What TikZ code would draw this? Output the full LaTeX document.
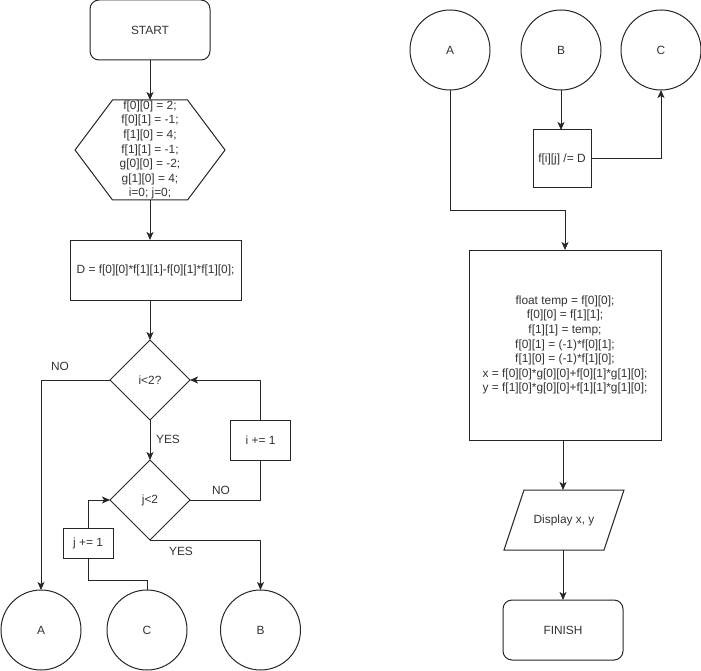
\documentclass[tikz,border=0pt]{standalone}
\usepackage{fontspec}
\setmainfont{Liberation Sans}
\usetikzlibrary{arrows.meta,shapes.geometric}

\tikzset{
  base/.style={draw=black!85, line width=1pt, inner sep=0pt, outer sep=0pt,
               text=black!80, font=\fontsize{11.9}{14.6}\selectfont},
  terminal/.style={base, rectangle, rounded corners=9pt},
  procbox/.style={base, rectangle},
  decision/.style={base, diamond, minimum width=80pt, minimum height=80pt, shape aspect=1},
  connector/.style={base, circle, minimum size=80pt},
  plain/.style={inner sep=0pt, outer sep=0pt, text=black!80, font=\fontsize{11.9}{14.6}\selectfont},
  link/.style={draw=black!85, line width=1pt},
  arr/.style={link, -{Stealth[length=8pt,width=7pt,inset=2pt]}}
}

\begin{document}
\begin{tikzpicture}[x=1pt,y=-1pt]
\useasboundingbox (0,0) rectangle (701,671);

% ---------- main routine (left column) ----------
\node[terminal, minimum width=120pt, minimum height=60pt] (start) at (150,30) {START};

\node[plain, minimum width=150pt, minimum height=100pt, align=center] (init) at (150,150)
  {f[0][0] = 2;\\ f[0][1] = -1;\\ f[1][0] = 4;\\ f[1][1] = -1;\\ g[0][0] = -2;\\ g[1][0] = 4;\\ i=0; j=0;};
\draw[link] (init.west) -- ([xshift=37.5pt]init.north west) -- ([xshift=-37.5pt]init.north east)
  -- (init.east) -- ([xshift=-37.5pt]init.south east) -- ([xshift=37.5pt]init.south west) -- cycle;

\node[procbox, minimum width=171pt, minimum height=60pt] (det) at (155.5,270)
  {D = f[0][0]*f[1][1]-f[0][1]*f[1][0];};

\node[decision] (di) at (150,380) {i<2?};
\node[decision] (dj) at (150,500) {j<2};

\node[procbox, minimum width=60pt, minimum height=40pt] (inci) at (260.5,440) {i += 1};
\node[procbox, minimum width=50pt, minimum height=30pt] (incj) at (88,543) {j += 1};

\node[connector] (cA) at (41,630) {A};
\node[connector] (cC) at (147,630) {C};
\node[connector] (cB) at (260.5,630) {B};

\coordinate (jc) at (88,580);

\draw[arr] (start.south) -- (init.north);
\draw[arr] (init.south) -- (init.south |- det.north);
\draw[arr] (di.north |- det.south) -- (di.north);
\draw[arr] (di.west) -| (cA.north);
\draw[arr] (di.south) -- (dj.north);
\draw[link] (dj.east) -| (inci.south);
\draw[arr] (inci.north) |- (di.east);
\draw[arr] (dj.south) -| (cB.north);
\draw[link] (cC.north) |- (jc) -- (incj.south);
\draw[arr] (incj.north) |- (dj.west);

\node[plain] (lno1) at (60,366) {NO};
\node[plain] (lyes1) at (168,439) {YES};
\node[plain] (lno2) at (221,490) {NO};
\node[plain] (lyes2) at (181,551) {YES};

% ---------- inversion routine (right column) ----------
\node[connector] (rA) at (450,50) {A};
\node[connector] (rB) at (561,50) {B};
\node[connector] (rC) at (661,50) {C};

\node[procbox, minimum width=58pt, minimum height=58pt] (fdiv) at (562,159) {f[i][j] /= D};

\node[procbox, minimum width=192pt, minimum height=190pt, align=center] (big) at (565,345)
  {float temp = f[0][0];\\ f[0][0] = f[1][1];\\ f[1][1] = temp;\\ f[0][1] = (-1)*f[0][1];\\
   f[1][0] = (-1)*f[1][0];\\ x = f[0][0]*g[0][0]+f[0][1]*g[1][0];\\ y = f[1][0]*g[0][0]+f[1][1]*g[1][0];};

\node[plain, minimum width=120pt, minimum height=60pt] (disp) at (564,520) {Display x, y};
\draw[link] ([xshift=20pt]disp.north west) -- (disp.north east) -- ([xshift=-20pt]disp.south east)
  -- (disp.south west) -- cycle;

\node[terminal, minimum width=120pt, minimum height=60pt] (finish) at (563,630) {FINISH};

\coordinate (ja) at (565,210);

\draw[arr] (rA.south) |- (ja) -- (big.north);
\draw[arr] (rB.south) -- (rB.south |- fdiv.north);
\draw[arr] (fdiv.east) -| (rC.south);
\draw[arr] (big.south -| finish.north) -- (finish.north |- disp.north);
\draw[arr] (finish.north |- disp.south) -- (finish.north);
\end{tikzpicture}
\end{document}
